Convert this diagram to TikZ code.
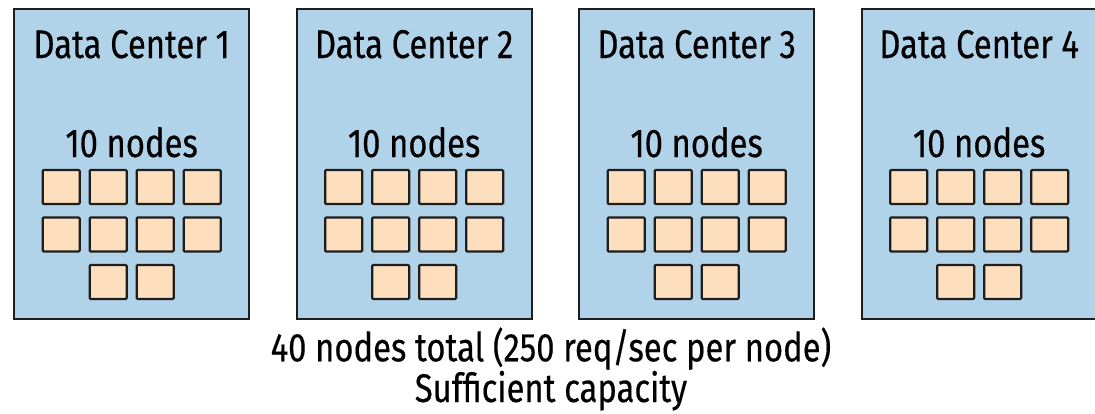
\documentclass[tikz,border=0pt]{standalone}
\usepackage{fontspec}
\setmainfont{Fira Sans}[FakeStretch=0.82,FakeBold=0.4]
\definecolor{dcblue}{RGB}{177,211,234}
\definecolor{peach}{RGB}{253,223,189}
\definecolor{edge}{RGB}{30,30,30}
\tikzset{
  dcbox/.style={draw=edge, fill=dcblue, line width=2.3pt, minimum width=235pt, minimum height=310pt, inner sep=0pt, anchor=north west},
  srv/.style={draw=edge, fill=peach, line width=2.2pt, rounded corners=1pt, minimum width=37pt, minimum height=34pt, inner sep=0pt},
  lbl/.style={font=\fontsize{40}{42}\selectfont, anchor=base, inner sep=0pt, text=black},
}
\begin{document}
\begin{tikzpicture}[x=1pt,y=-1pt]
\useasboundingbox (0,0) rectangle (1095,413);
\foreach \i/\xl in {1/13,2/295.5,3/578,4/860.5}{
  \node[dcbox] (dc\i) at (\xl,8) {};
  \node[lbl] (t\i) at (dc\i.north |- 0,58) {Data Center \i};
  \node[lbl] (n\i) at (dc\i.north |- 0,157) {10 nodes};
  \foreach \c/\dx in {1/-70.5,2/-23.5,3/23.5,4/70.5}{
    \node[srv] (s\i a\c) at ([xshift=\dx pt]dc\i.north |- 0,187) {};
    \node[srv] (s\i b\c) at ([xshift=\dx pt]dc\i.north |- 0,234.5) {};
  }
  \node[srv] (s\i c1) at ([xshift=-23.5pt]dc\i.north |- 0,282) {};
  \node[srv] (s\i c2) at ([xshift=23.5pt]dc\i.north |- 0,282) {};
}
\node[lbl, font=\fontsize{40}{35}\selectfont, align=center] (total) at (551,402)
  {40 nodes total (250 req/sec per node)\\Sufficient capacity};
\end{tikzpicture}
\end{document}
